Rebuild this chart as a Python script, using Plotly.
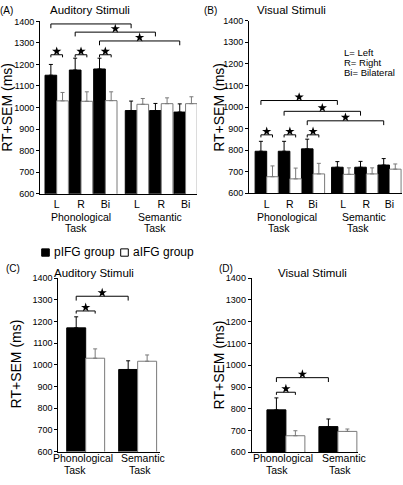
import plotly.graph_objects as go

W, H = 403, 485

# ---------------- data ----------------
sides = ["L", "R", "Bi", "L", "R", "Bi"]
pos6 = [0, 1, 2, 3.3, 4.3, 5.3]
pos2 = [0, 1]
tasks = ["Phonological", "Semantic"]
groups = ["pIFG group", "aIFG group"]
yticks = [600, 700, 800, 900, 1000, 1100, 1200, 1300, 1400]

# (A) Auditory stimuli, by hemisphere
a_pifg = [1150, 1174, 1179, 986, 986, 979]
a_pifg_sem = [50, 55, 50, 44, 33, 38]
a_aifg = [1031, 1029, 1032, 1015, 1018, 1018]
a_aifg_sem = [39, 44, 41, 27, 27, 32]
# (B) Visual stimuli, by hemisphere
b_pifg = [795, 795, 806, 721, 721, 731]
b_pifg_sem = [46, 46, 45, 26, 27, 30]
b_aifg = [677, 667, 690, 688, 690, 712]
b_aifg_sem = [50, 50, 49, 30, 28, 24]
# (C) Auditory stimuli, pooled
c_pifg = [1171, 979]
c_pifg_sem = [51, 40]
c_aifg = [1031, 1017]
c_aifg_sem = [43, 29]
# (D) Visual stimuli, pooled
d_pifg = [795, 718]
d_pifg_sem = [55, 35]
d_aifg = [676, 696]
d_aifg_sem = [23, 11]

# significance bracket heights (ms)
a_pair_h = [1245, 1245, 1245]
a_task_h = [1388, 1350, 1309]
b_pair_h = [871, 871, 871]
b_task_h = [1030, 980, 936]
c_pair_h = [1249]
c_task_h = [1317]
d_pair_h = [876]
d_task_h = [943]

FONT = "Liberation Sans, Arial, sans-serif"


def PX(x):
    return x / W


def PY(y):
    return 1 - y / H


fig = go.Figure()

panels = [
    ("", pos6, a_pifg, a_pifg_sem, a_aifg, a_aifg_sem, 0.48, a_pair_h, a_task_h, 3),
    ("2", pos6, b_pifg, b_pifg_sem, b_aifg, b_aifg_sem, 0.5, b_pair_h, b_task_h, 3),
    ("3", pos2, c_pifg, c_pifg_sem, c_aifg, c_aifg_sem, 0.365, c_pair_h, c_task_h, 1),
    ("4", pos2, d_pifg, d_pifg_sem, d_aifg, d_aifg_sem, 0.365, d_pair_h, d_task_h, 1),
]

for suf, pos, pm, ps, am, asem, w, pair_h, task_h, ns in panels:
    xa, ya = "x" + suf, "y" + suf
    fig.add_trace(go.Bar(
        x=pos, y=pm, width=w, offset=-w, xaxis=xa, yaxis=ya,
        marker=dict(color="black", line=dict(color="black", width=1)),
        error_y=dict(type="data", symmetric=False, array=ps, arrayminus=[0] * len(ps),
                     color="black", thickness=1, width=2),
        showlegend=False, hoverinfo="skip"))
    fig.add_trace(go.Bar(
        x=pos, y=am, width=w, offset=0, xaxis=xa, yaxis=ya,
        marker=dict(color="white", line=dict(color="#7a7a7a", width=1)),
        error_y=dict(type="data", symmetric=False, array=asem, arrayminus=[0] * len(asem),
                     color="#7a7a7a", thickness=1, width=2),
        showlegend=False, hoverinfo="skip"))
    bx, by, sx, sy = [], [], [], []
    for i in range(ns):
        # pIFG vs aIFG within a condition
        x1 = pos[i] - w / 2
        x2 = pos[i] + w / 2
        h = pair_h[i]
        bx += [x1, x1, x2, x2, None]
        by += [h - 12, h, h, h - 12, None]
        sx.append((x1 + x2) / 2)
        sy.append(h + 16)
        # phonological vs semantic (pIFG)
        x1 = pos[i] - w / 2
        x2 = pos[i + ns] - w / 2
        h = task_h[i]
        bx += [x1, x1, x2, x2, None]
        by += [h - 20, h, h, h - 20, None]
        sx.append((x1 + x2) / 2)
        sy.append(h + 16)
    fig.add_trace(go.Scatter(x=bx, y=by, mode="lines", xaxis=xa, yaxis=ya,
                             line=dict(color="black", width=1), cliponaxis=False,
                             showlegend=False, hoverinfo="skip"))
    fig.add_trace(go.Scatter(x=sx, y=sy, mode="markers", xaxis=xa, yaxis=ya,
                             marker=dict(symbol="star", size=7, color="black", line=dict(width=0)),
                             cliponaxis=False, showlegend=False, hoverinfo="skip"))

yax = dict(range=[600, 1400], tickvals=yticks, ticks="outside", ticklen=3, tickwidth=1,
           tickcolor="black", tickfont=dict(size=9, family=FONT, color="black"),
           showline=True, linecolor="black", linewidth=1, showgrid=False, zeroline=False)
xax = dict(showline=True, linecolor="black", linewidth=1, showgrid=False, zeroline=False,
           ticks="", fixedrange=True)

fig.update_layout(
    width=W, height=H, autosize=False,
    margin=dict(l=0, r=0, t=0, b=0),
    paper_bgcolor="white", plot_bgcolor="white",
    barmode="overlay",
    font=dict(family=FONT, color="black"),
    xaxis=dict(xax, domain=[PX(40), PX(197)], range=[-0.687, 5.77], anchor="y",
               tickvals=pos6, ticktext=sides, tickfont=dict(size=10.5), ticklabelstandoff=1),
    yaxis=dict(yax, domain=[PY(192.7), PY(16.7)], anchor="x"),
    xaxis2=dict(xax, domain=[PX(249), PX(402)], range=[-0.764, 5.84], anchor="y2",
                tickvals=pos6, ticktext=sides, tickfont=dict(size=10.5), ticklabelstandoff=1),
    yaxis2=dict(yax, domain=[PY(192.3), PY(16)], anchor="x2"),
    xaxis3=dict(xax, domain=[PX(58.3), PX(160)], range=[-0.527, 1.43], anchor="y3",
                showticklabels=False),
    yaxis3=dict(yax, domain=[PY(456), PY(279)], anchor="x3"),
    xaxis4=dict(xax, domain=[PX(251.7), PX(358)], range=[-0.658, 1.387], anchor="y4",
                showticklabels=False),
    yaxis4=dict(yax, domain=[PY(456.7), PY(279)], anchor="x4"),
)


def txt(x, y, s, size, angle=0, xanchor="center"):
    fig.add_annotation(x=PX(x), y=PY(y), xref="paper", yref="paper", text=s,
                       showarrow=False, xanchor=xanchor, yanchor="middle",
                       textangle=angle, font=dict(size=size, family=FONT, color="black"))


# panel letters and titles
txt(6.5, 5.5, "(A)", 10)
txt(90, 5.5, "Auditory Stimuli", 11.5)
txt(210, 5.5, "(B)", 10)
txt(291.5, 5.5, "Visual Stimuli", 11.5)
txt(12.5, 269, "(C)", 10)
txt(94, 273.5, "Auditory Stimuli", 11.5)
txt(226, 269, "(D)", 10)
txt(312.5, 273.5, "Visual Stimuli", 11.5)

# y-axis titles
for xx, yy in [(7, 105), (219, 105), (16, 367), (219, 368)]:
    txt(xx, yy, "RT+SEM (ms)", 14, angle=-90)

# task labels
for (px_, py_, s) in [
    (81, 216, tasks[0]), (76, 228, "Task"), (160, 216, tasks[1]), (155, 228, "Task"),
    (286.7, 216, tasks[0]), (279, 228, "Task"), (364, 216, tasks[1]), (358, 228, "Task"),
    (82.5, 463, tasks[0]), (75, 475, "Task"), (143, 463, tasks[1]), (140, 475, "Task"),
    (282.5, 463, tasks[0]), (276.7, 475, "Task"), (344, 463, tasks[1]), (340, 475, "Task"),
]:
    txt(px_, py_, s, 10.5)

# key for hemisphere abbreviations
for yy, s in [(49, "L= Left"), (59, "R= Right"), (69, "Bi= Bilateral")]:
    txt(341.5, yy, s, 9.5, xanchor="left")

# group legend
fig.add_shape(type="rect", xref="paper", yref="paper", x0=PX(41.7), x1=PX(49.3),
              y0=PY(256.5), y1=PY(249), fillcolor="black", line=dict(color="black", width=1))
fig.add_shape(type="rect", xref="paper", yref="paper", x0=PX(120.7), x1=PX(128.3),
              y0=PY(256.5), y1=PY(249), fillcolor="white", line=dict(color="black", width=1))
txt(51.5, 252.7, groups[0], 12, xanchor="left")
txt(130.5, 252.7, groups[1], 12, xanchor="left")

fig.write_html("out.html", config={"staticPlot": True, "displayModeBar": False},
               post_script="document.body.style.margin='0';"
               "document.body.style.overflow='hidden';")
